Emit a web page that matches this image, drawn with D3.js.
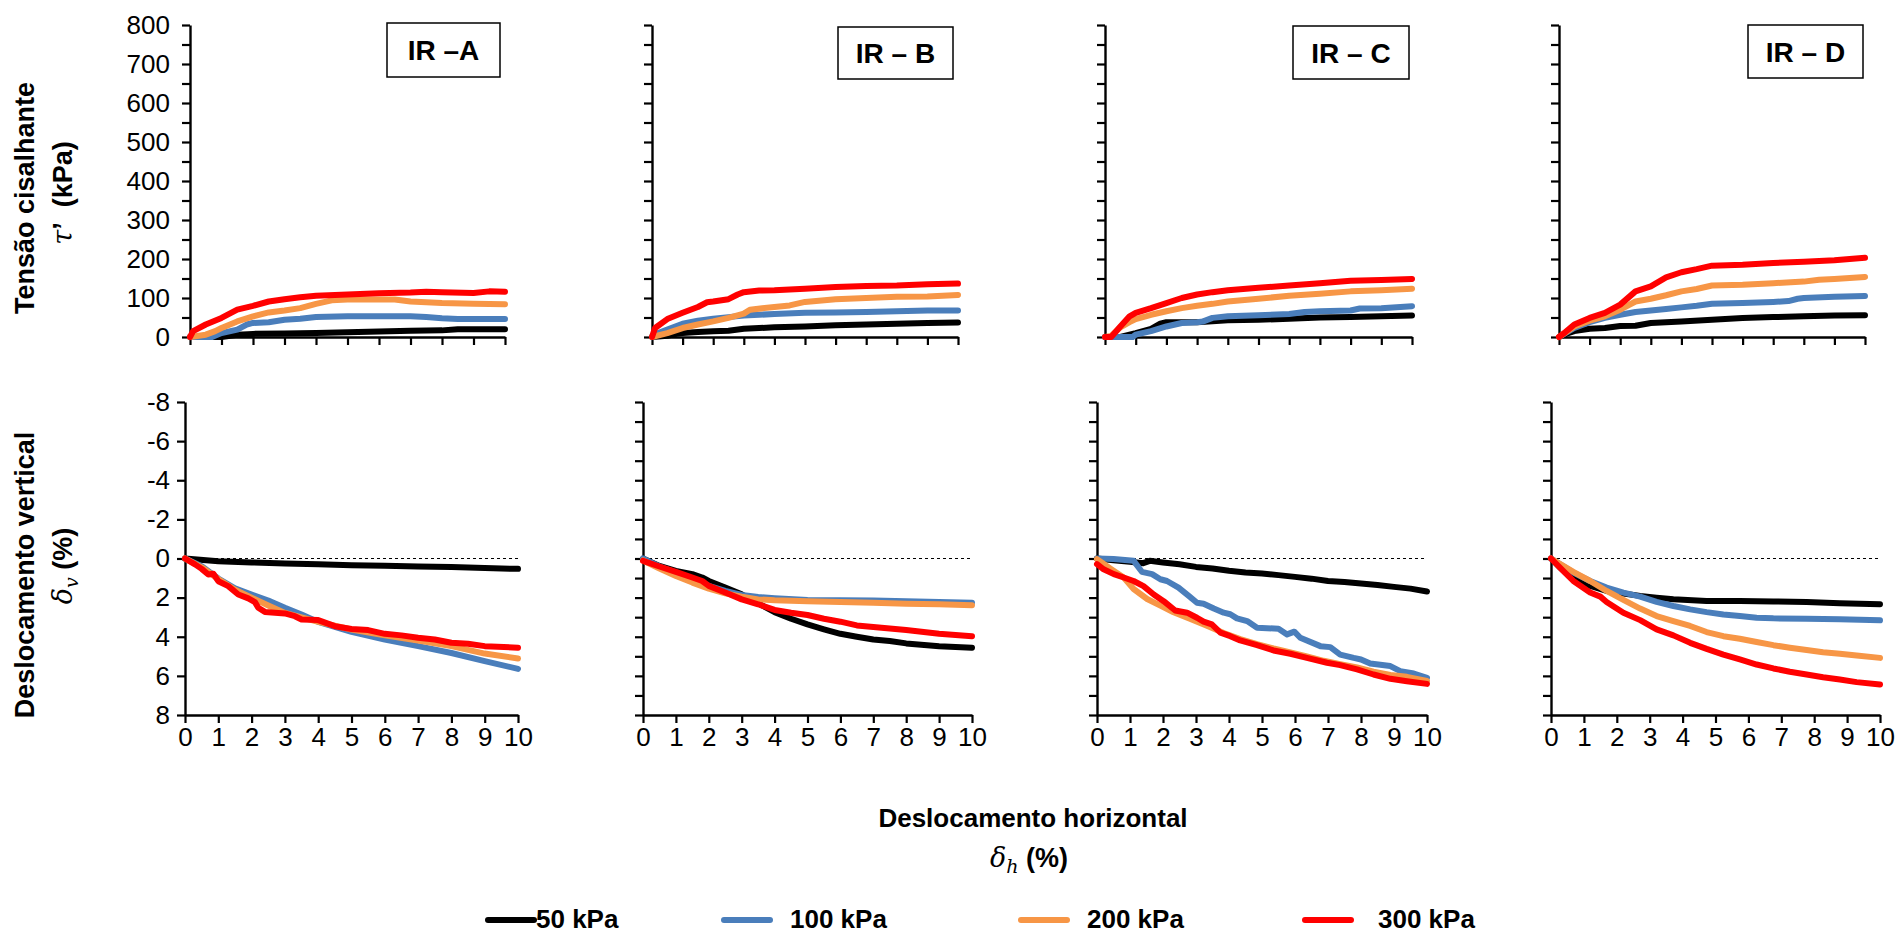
<!DOCTYPE html>
<html>
<head>
<meta charset="utf-8">
<script src="https://cdn.jsdelivr.net/npm/d3@7"></script>
<style>
  body { margin: 0; background: #fff; }
  svg { display: block; font-family: "Liberation Sans", Arial, sans-serif; }
</style>
</head>
<body>
<svg width="1899" height="935"></svg>
<script>
// categories / labels
var pressures = ["50 kPa", "100 kPa", "200 kPa", "300 kPa"]
var panelNames = ["IR \u2013A", "IR \u2013 B", "IR \u2013 C", "IR \u2013 D"]
var tauTicks = d3.range(0, 801, 50)
var dvTicks = d3.range(-8, 9, 1)
var dhTicks = d3.range(0, 11, 1)

// shear stress tau' (kPa) vs horizontal displacement (%)
var tauA_50 = [[0,0],[1,0],[1.5,6],[2,8],[3,9],[4,10],[5,12],[6,14],[7,16],[8,17],[8.5,20],[10,20]]
var tauA_100 = [[0,0],[0.7,0],[1,10],[1.5,19],[1.8,32],[2,36],[2.5,38],[3,44],[3.5,47],[4,51],[5,53],[6,53],[7,53],[7.5,51],[8,48],[8.5,46],[10,46]]
var tauA_200 = [[0,0],[0.5,6],[0.8,15],[1,23],[1.5,40],[2,53],[2.5,63],[3,68],[3.5,74],[4,85],[4.5,94],[5,96],[6.5,96],[7,91],[7.5,89],[8,87],[9,85],[10,84]]
var tauA_300 = [[0,0],[0.1,15],[0.5,32],[1,49],[1.5,70],[2,80],[2.5,91],[3,97],[3.5,102],[4,106],[5,109],[6,112],[7,114],[7.5,116],[8,115],[9,113],[9.5,117],[10,116]]

var tauB_50 = [[0,0],[0.5,3],[0.8,8],[1,10],[1.5,13],[2,15],[2.5,16],[3,21],[3.5,23],[4,25],[5,27],[6,30],[7,32],[8,34],[9,36],[10,37]]
var tauB_100 = [[0,0],[0.2,10],[0.5,19],[1,34],[1.5,42],[2,47],[2.5,51],[3,55],[3.5,57],[4,59],[5,62],[6,63],[7,64],[8,66],[9,68],[10,68]]
var tauB_200 = [[0,0],[0.5,10],[1,23],[1.5,32],[2,40],[2.5,49],[3,60],[3.2,70],[4,77],[4.5,81],[5,90],[6,97],[7,100],[8,103],[9,104],[10,108]]
var tauB_300 = [[0,0],[0.1,23],[0.5,46],[1,62],[1.5,77],[1.8,89],[2,91],[2.5,97],[2.8,109],[3,115],[3.5,119],[4,120],[5,124],[6,128],[7,131],[8,132],[9,135],[10,137]]

var tauC_50 = [[0,0],[0.5,0],[1,10],[1.5,21],[1.8,34],[2,38],[3,38],[4,43],[5,44],[6,47],[7,50],[8,51],[9,53],[10,55]]
var tauC_100 = [[0,0],[0.9,0],[1,6],[1.5,15],[2,27],[2.5,36],[3,38],[3.2,40],[3.5,49],[4,53],[5,56],[6,59],[6.5,64],[7,66],[8,68],[8.3,73],[9,74],[10,79]]
var tauC_200 = [[0,0],[0.2,3],[0.5,25],[0.8,38],[1,46],[1.5,57],[2,66],[2.5,74],[3,80],[3.5,85],[4,91],[5,98],[6,106],[7,111],[8,117],[9,120],[10,124]]
var tauC_300 = [[0,0],[0.2,0],[0.5,27],[0.8,53],[1,62],[1.5,74],[2,87],[2.5,100],[3,109],[3.5,115],[4,120],[5,126],[6,132],[7,138],[8,144],[9,146],[10,149]]

var tauD_50 = [[0,0],[0.3,10],[0.5,15],[1,21],[1.5,23],[2,28],[2.5,29],[3,36],[4,40],[5,44],[6,49],[7,51],[8,53],[9,55],[10,56]]
var tauD_100 = [[0,0],[0.5,23],[1,38],[1.5,49],[2,57],[2.5,64],[3,68],[3.5,72],[4,76],[4.5,80],[5,85],[6,87],[7,90],[7.5,92],[7.8,98],[8,100],[9,103],[10,105]]
var tauD_200 = [[0,0],[0.5,27],[1,42],[1.5,53],[2,70],[2.5,91],[3,98],[3.5,107],[4,117],[4.5,123],[5,132],[6,134],[7,138],[8,142],[8.5,147],[9,149],[10,154]]
var tauD_300 = [[0,0],[0.2,12],[0.5,32],[1,49],[1.5,62],[2,83],[2.5,117],[3,130],[3.5,153],[4,166],[4.5,174],[5,183],[6,185],[7,190],[8,193],[9,197],[10,203]]

// vertical displacement dv (%) vs horizontal displacement (%)
var dvA_50 = [[0,0],[1,0.14],[2,0.2],[3,0.26],[4,0.29],[5,0.34],[6,0.37],[7,0.41],[8,0.44],[9,0.49],[10,0.53]]
var dvA_100 = [[0,0],[0.5,0.39],[1,1.02],[1.5,1.53],[2,1.84],[2.5,2.15],[3,2.52],[3.5,2.86],[4,3.24],[5,3.75],[6,4.14],[7,4.48],[8,4.83],[9,5.25],[10,5.64]]
var dvA_200 = [[0,0],[0.5,0.45],[1,1.05],[1.5,1.6],[2,2.0],[2.5,2.4],[3,2.78],[4,3.24],[5,3.63],[6,3.93],[7,4.19],[8,4.48],[9,4.86],[10,5.11]]
var dvA_300 = [[0,0],[0.3,0.3],[0.5,0.53],[0.7,0.82],[0.85,0.78],[1,1.16],[1.3,1.41],[1.6,1.84],[1.9,2.04],[2.1,2.23],[2.2,2.52],[2.4,2.73],[3,2.81],[3.3,2.95],[3.5,3.12],[4,3.15],[4.5,3.46],[5,3.6],[5.5,3.66],[6,3.85],[6.5,3.93],[7,4.05],[7.5,4.14],[8,4.31],[8.5,4.36],[9,4.48],[10,4.56]]

var dvB_50 = [[0,0],[0.5,0.38],[1,0.63],[1.5,0.8],[1.8,0.97],[2,1.15],[2.5,1.49],[3,1.83],[3.5,2.29],[4,2.74],[4.5,3.08],[5,3.37],[5.5,3.62],[6,3.85],[6.5,4.0],[7,4.14],[7.5,4.22],[8,4.34],[9,4.48],[10,4.56]]
var dvB_100 = [[0,0],[0.5,0.41],[1,0.72],[1.5,1.06],[2,1.4],[2.5,1.66],[3,1.86],[3.5,1.97],[4,2.03],[5,2.12],[6,2.14],[7,2.15],[8,2.19],[9,2.22],[10,2.26]]
var dvB_200 = [[0,0.1],[0.5,0.51],[1,0.89],[1.5,1.23],[2,1.54],[2.5,1.78],[3,1.95],[3.5,2.09],[4,2.14],[5,2.19],[6,2.22],[7,2.26],[8,2.31],[9,2.34],[10,2.39]]
var dvB_300 = [[0,0.12],[0.5,0.41],[1,0.68],[1.5,0.97],[1.8,1.15],[2,1.4],[2.5,1.74],[3,2.09],[3.5,2.34],[4,2.63],[4.5,2.77],[5,2.89],[5.5,3.08],[6,3.23],[6.5,3.42],[7,3.5],[8,3.66],[9,3.85],[10,3.97]]

var dvC_50 = [[0,0],[0.5,0.09],[1,0.17],[1.4,0.24],[1.6,0.12],[2,0.2],[2.5,0.29],[3,0.43],[3.5,0.51],[4,0.63],[4.5,0.72],[5,0.77],[5.5,0.85],[6,0.94],[6.5,1.03],[7,1.15],[7.5,1.2],[8,1.28],[8.5,1.35],[9,1.45],[9.5,1.54],[10,1.69]]
var dvC_100 = [[0,0],[0.5,0.03],[1.11,0.12],[1.36,0.68],[1.67,0.8],[1.92,1.06],[2.12,1.15],[2.47,1.49],[2.78,1.91],[3.03,2.26],[3.23,2.31],[3.54,2.56],[3.84,2.77],[4.04,2.85],[4.24,3.06],[4.55,3.2],[4.85,3.54],[5.5,3.59],[5.76,3.88],[5.98,3.74],[6.16,4.05],[6.77,4.48],[7.07,4.53],[7.37,4.91],[7.78,5.08],[8,5.16],[8.28,5.37],[8.89,5.5],[9.19,5.76],[9.6,5.88],[10,6.1]]
var dvC_200 = [[0,0.03],[0.4,0.51],[0.81,0.97],[1.11,1.56],[1.52,2.07],[1.92,2.41],[2.32,2.75],[2.83,3.09],[3.33,3.44],[3.84,3.81],[4.34,4.12],[4.85,4.38],[5.35,4.6],[5.86,4.8],[6.36,5.01],[6.87,5.23],[7.37,5.4],[7.88,5.57],[8.38,5.78],[8.89,5.95],[9.39,6.05],[10,6.26]]
var dvC_300 = [[0,0.29],[0.2,0.55],[0.51,0.8],[0.81,0.97],[1.11,1.15],[1.41,1.41],[1.72,1.84],[2.02,2.18],[2.37,2.66],[2.73,2.77],[3.03,3.03],[3.23,3.23],[3.48,3.37],[3.74,3.79],[4.04,3.97],[4.34,4.19],[4.85,4.43],[5.35,4.7],[5.86,4.87],[6.36,5.08],[6.97,5.33],[7.37,5.45],[7.88,5.67],[8.38,5.93],[8.89,6.15],[9.39,6.27],[10,6.41]]

var dvD_50 = [[0,0],[0.27,0.46],[0.68,1.03],[1.19,1.4],[1.69,1.66],[2.2,1.79],[2.71,1.91],[3.21,2.0],[3.72,2.08],[4.73,2.17],[5.74,2.17],[6.76,2.2],[7.77,2.22],[8.78,2.29],[10,2.34]]
var dvD_100 = [[0,0],[0.68,0.72],[1.19,1.15],[1.69,1.49],[2.2,1.74],[2.71,1.95],[3.21,2.22],[3.72,2.43],[4.23,2.6],[4.73,2.74],[5.24,2.86],[5.74,2.94],[6.25,3.03],[6.76,3.06],[7.77,3.08],[8.78,3.11],[10,3.16]]
var dvD_200 = [[0,0],[0.68,0.68],[1.19,1.15],[1.69,1.66],[2.2,2.12],[2.71,2.56],[3.21,2.94],[3.72,3.2],[4.23,3.45],[4.73,3.76],[5.24,3.97],[5.74,4.1],[6.25,4.27],[6.76,4.43],[7.26,4.56],[7.77,4.68],[8.27,4.79],[8.78,4.87],[9.29,4.96],[10,5.08]]
var dvD_300 = [[0,0],[0.37,0.63],[0.68,1.15],[1.19,1.74],[1.5,1.95],[1.69,2.22],[2.2,2.77],[2.71,3.15],[3.21,3.62],[3.72,3.93],[4.23,4.31],[4.73,4.62],[5.24,4.91],[5.74,5.16],[6.25,5.42],[6.76,5.62],[7.26,5.79],[7.77,5.93],[8.27,6.07],[8.78,6.19],[9.29,6.32],[10,6.44]]

var tauSeries = [
    [tauA_50, tauA_100, tauA_200, tauA_300],
    [tauB_50, tauB_100, tauB_200, tauB_300],
    [tauC_50, tauC_100, tauC_200, tauC_300],
    [tauD_50, tauD_100, tauD_200, tauD_300]
]
var dvSeries = [
    [dvA_50, dvA_100, dvA_200, dvA_300],
    [dvB_50, dvB_100, dvB_200, dvB_300],
    [dvC_50, dvC_100, dvC_200, dvC_300],
    [dvD_50, dvD_100, dvD_200, dvD_300]
]

var colors = ["#000000", "#4a7ebb", "#f79646", "#ff0000"]

// layout (pixels)
var topX = [[190, 505], [652, 958], [1105, 1412], [1559, 1865]]
var botX = [[185, 518], [643, 972], [1097, 1427], [1551, 1880]]
var boxes = [[387, 23, 113, 54], [838, 27, 115, 52], [1293, 26, 116, 53], [1748, 25, 115, 53]]

var svg = d3.select("svg")

var yTau = d3.scaleLinear().domain([0, 800]).range([337, 25])
var yDv = d3.scaleLinear().domain([-8, 8]).range([402, 715])

function styleAxis(g) {
    g.selectAll("path.domain").attr("stroke", "#000").attr("stroke-width", 2.4)
    g.selectAll(".tick line").attr("stroke", "#000").attr("stroke-width", 2.2)
    g.selectAll("text").attr("font-size", 26).attr("fill", "#000")
        .attr("font-family", "Liberation Sans, Arial, sans-serif")
}

var line = d3.line()

// top row: shear stress
tauSeries.forEach(function(series, i) {
    var x = d3.scaleLinear().domain([0, 10]).range(topX[i])
    var g = svg.append("g")

    g.append("g")
        .attr("transform", "translate(0," + yTau(0) + ")")
        .call(d3.axisBottom(x).tickValues(dhTicks).tickSize(8).tickSizeOuter(0).tickFormat(""))
        .call(styleAxis)

    g.append("g")
        .attr("transform", "translate(" + x(0) + ",0)")
        .call(d3.axisLeft(yTau).tickValues(tauTicks).tickSize(8).tickSizeOuter(0).tickPadding(12)
            .tickFormat(function(d) { return (i === 0 && d % 100 === 0) ? d : "" }))
        .call(styleAxis)

    series.forEach(function(pts, k) {
        g.append("path")
            .attr("d", line.x(d => x(d[0])).y(d => yTau(d[1]))(pts))
            .attr("fill", "none")
            .attr("stroke", colors[k])
            .attr("stroke-width", 6)
            .attr("stroke-linejoin", "round")
            .attr("stroke-linecap", "round")
    })

    var b = boxes[i]
    g.append("rect")
        .attr("x", b[0]).attr("y", b[1]).attr("width", b[2]).attr("height", b[3])
        .attr("fill", "#fff").attr("stroke", "#000").attr("stroke-width", 1.5)
    g.append("text")
        .attr("x", b[0] + b[2] / 2).attr("y", b[1] + b[3] / 2 + 10)
        .attr("text-anchor", "middle")
        .attr("font-size", 28).attr("font-weight", "bold")
        .text(panelNames[i])
})

// bottom row: vertical displacement
dvSeries.forEach(function(series, i) {
    var x = d3.scaleLinear().domain([0, 10]).range(botX[i])
    var g = svg.append("g")

    g.append("line")
        .attr("x1", x(0)).attr("x2", x(10))
        .attr("y1", yDv(0)).attr("y2", yDv(0))
        .attr("stroke", "#000").attr("stroke-width", 1)
        .attr("stroke-dasharray", "3,3")

    g.append("g")
        .attr("transform", "translate(0," + yDv(8) + ")")
        .call(d3.axisBottom(x).tickValues(dhTicks).tickSize(8).tickSizeOuter(0).tickPadding(5))
        .call(styleAxis)

    g.append("g")
        .attr("transform", "translate(" + x(0) + ",0)")
        .call(d3.axisLeft(yDv)
            .tickValues(i === 0 ? dvTicks.filter(d => d % 2 === 0) : dvTicks)
            .tickSize(8).tickSizeOuter(0).tickPadding(7)
            .tickFormat(function(d) { return i === 0 ? d : "" }))
        .call(styleAxis)

    series.forEach(function(pts, k) {
        g.append("path")
            .attr("d", line.x(d => x(d[0])).y(d => yDv(d[1]))(pts))
            .attr("fill", "none")
            .attr("stroke", colors[k])
            .attr("stroke-width", 6)
            .attr("stroke-linejoin", "round")
            .attr("stroke-linecap", "round")
    })
})

// axis titles
var mathFont = "DejaVu Serif, Liberation Serif, serif"

svg.append("text")
    .attr("transform", "translate(25,198) rotate(-90)")
    .attr("text-anchor", "middle").attr("dy", "0.35em")
    .attr("font-size", 27).attr("font-weight", "bold")
    .text("Tensão cisalhante")
var t2 = svg.append("text")
    .attr("transform", "translate(63,193) rotate(-90)")
    .attr("text-anchor", "middle").attr("dy", "0.35em")
    .attr("font-size", 27)
t2.append("tspan").attr("font-family", mathFont).attr("font-style", "italic").text("\u03c4")
t2.append("tspan").attr("font-weight", "bold").text("\u2019\u00a0\u00a0(kPa)")

svg.append("text")
    .attr("transform", "translate(25,575) rotate(-90)")
    .attr("text-anchor", "middle").attr("dy", "0.35em")
    .attr("font-size", 27).attr("font-weight", "bold")
    .text("Deslocamento vertical")
var t4 = svg.append("text")
    .attr("transform", "translate(63,566) rotate(-90)")
    .attr("text-anchor", "middle").attr("dy", "0.35em")
    .attr("font-size", 27)
t4.append("tspan").attr("font-family", mathFont).attr("font-style", "italic").text("\u03b4")
t4.append("tspan").attr("font-family", mathFont).attr("font-style", "italic")
    .attr("font-size", 19).attr("dy", 6).text("v")
t4.append("tspan").attr("dy", -6).attr("font-weight", "bold").text(" (%)")

svg.append("text")
    .attr("x", 1033).attr("y", 827)
    .attr("text-anchor", "middle")
    .attr("font-size", 26).attr("font-weight", "bold")
    .text("Deslocamento horizontal")
var t6 = svg.append("text")
    .attr("x", 1029).attr("y", 867)
    .attr("text-anchor", "middle")
    .attr("font-size", 27)
t6.append("tspan").attr("font-family", mathFont).attr("font-style", "italic").text("\u03b4")
t6.append("tspan").attr("font-family", mathFont).attr("font-style", "italic")
    .attr("font-size", 19).attr("dy", 6).text("h")
t6.append("tspan").attr("dy", -6).attr("font-weight", "bold").text(" (%)")

// legend
var legendX = [488, 724, 1021, 1305]
var legendTextX = [536, 790, 1087, 1378]
var legend = svg.append("g")
pressures.forEach(function(p, k) {
    legend.append("line")
        .attr("x1", legendX[k]).attr("x2", legendX[k] + 46)
        .attr("y1", 920).attr("y2", 920)
        .attr("stroke", colors[k]).attr("stroke-width", 6)
        .attr("stroke-linecap", "round")
    legend.append("text")
        .attr("x", legendTextX[k]).attr("y", 928)
        .attr("font-size", 26).attr("font-weight", "bold")
        .text(p)
})
</script>
</body>
</html>
